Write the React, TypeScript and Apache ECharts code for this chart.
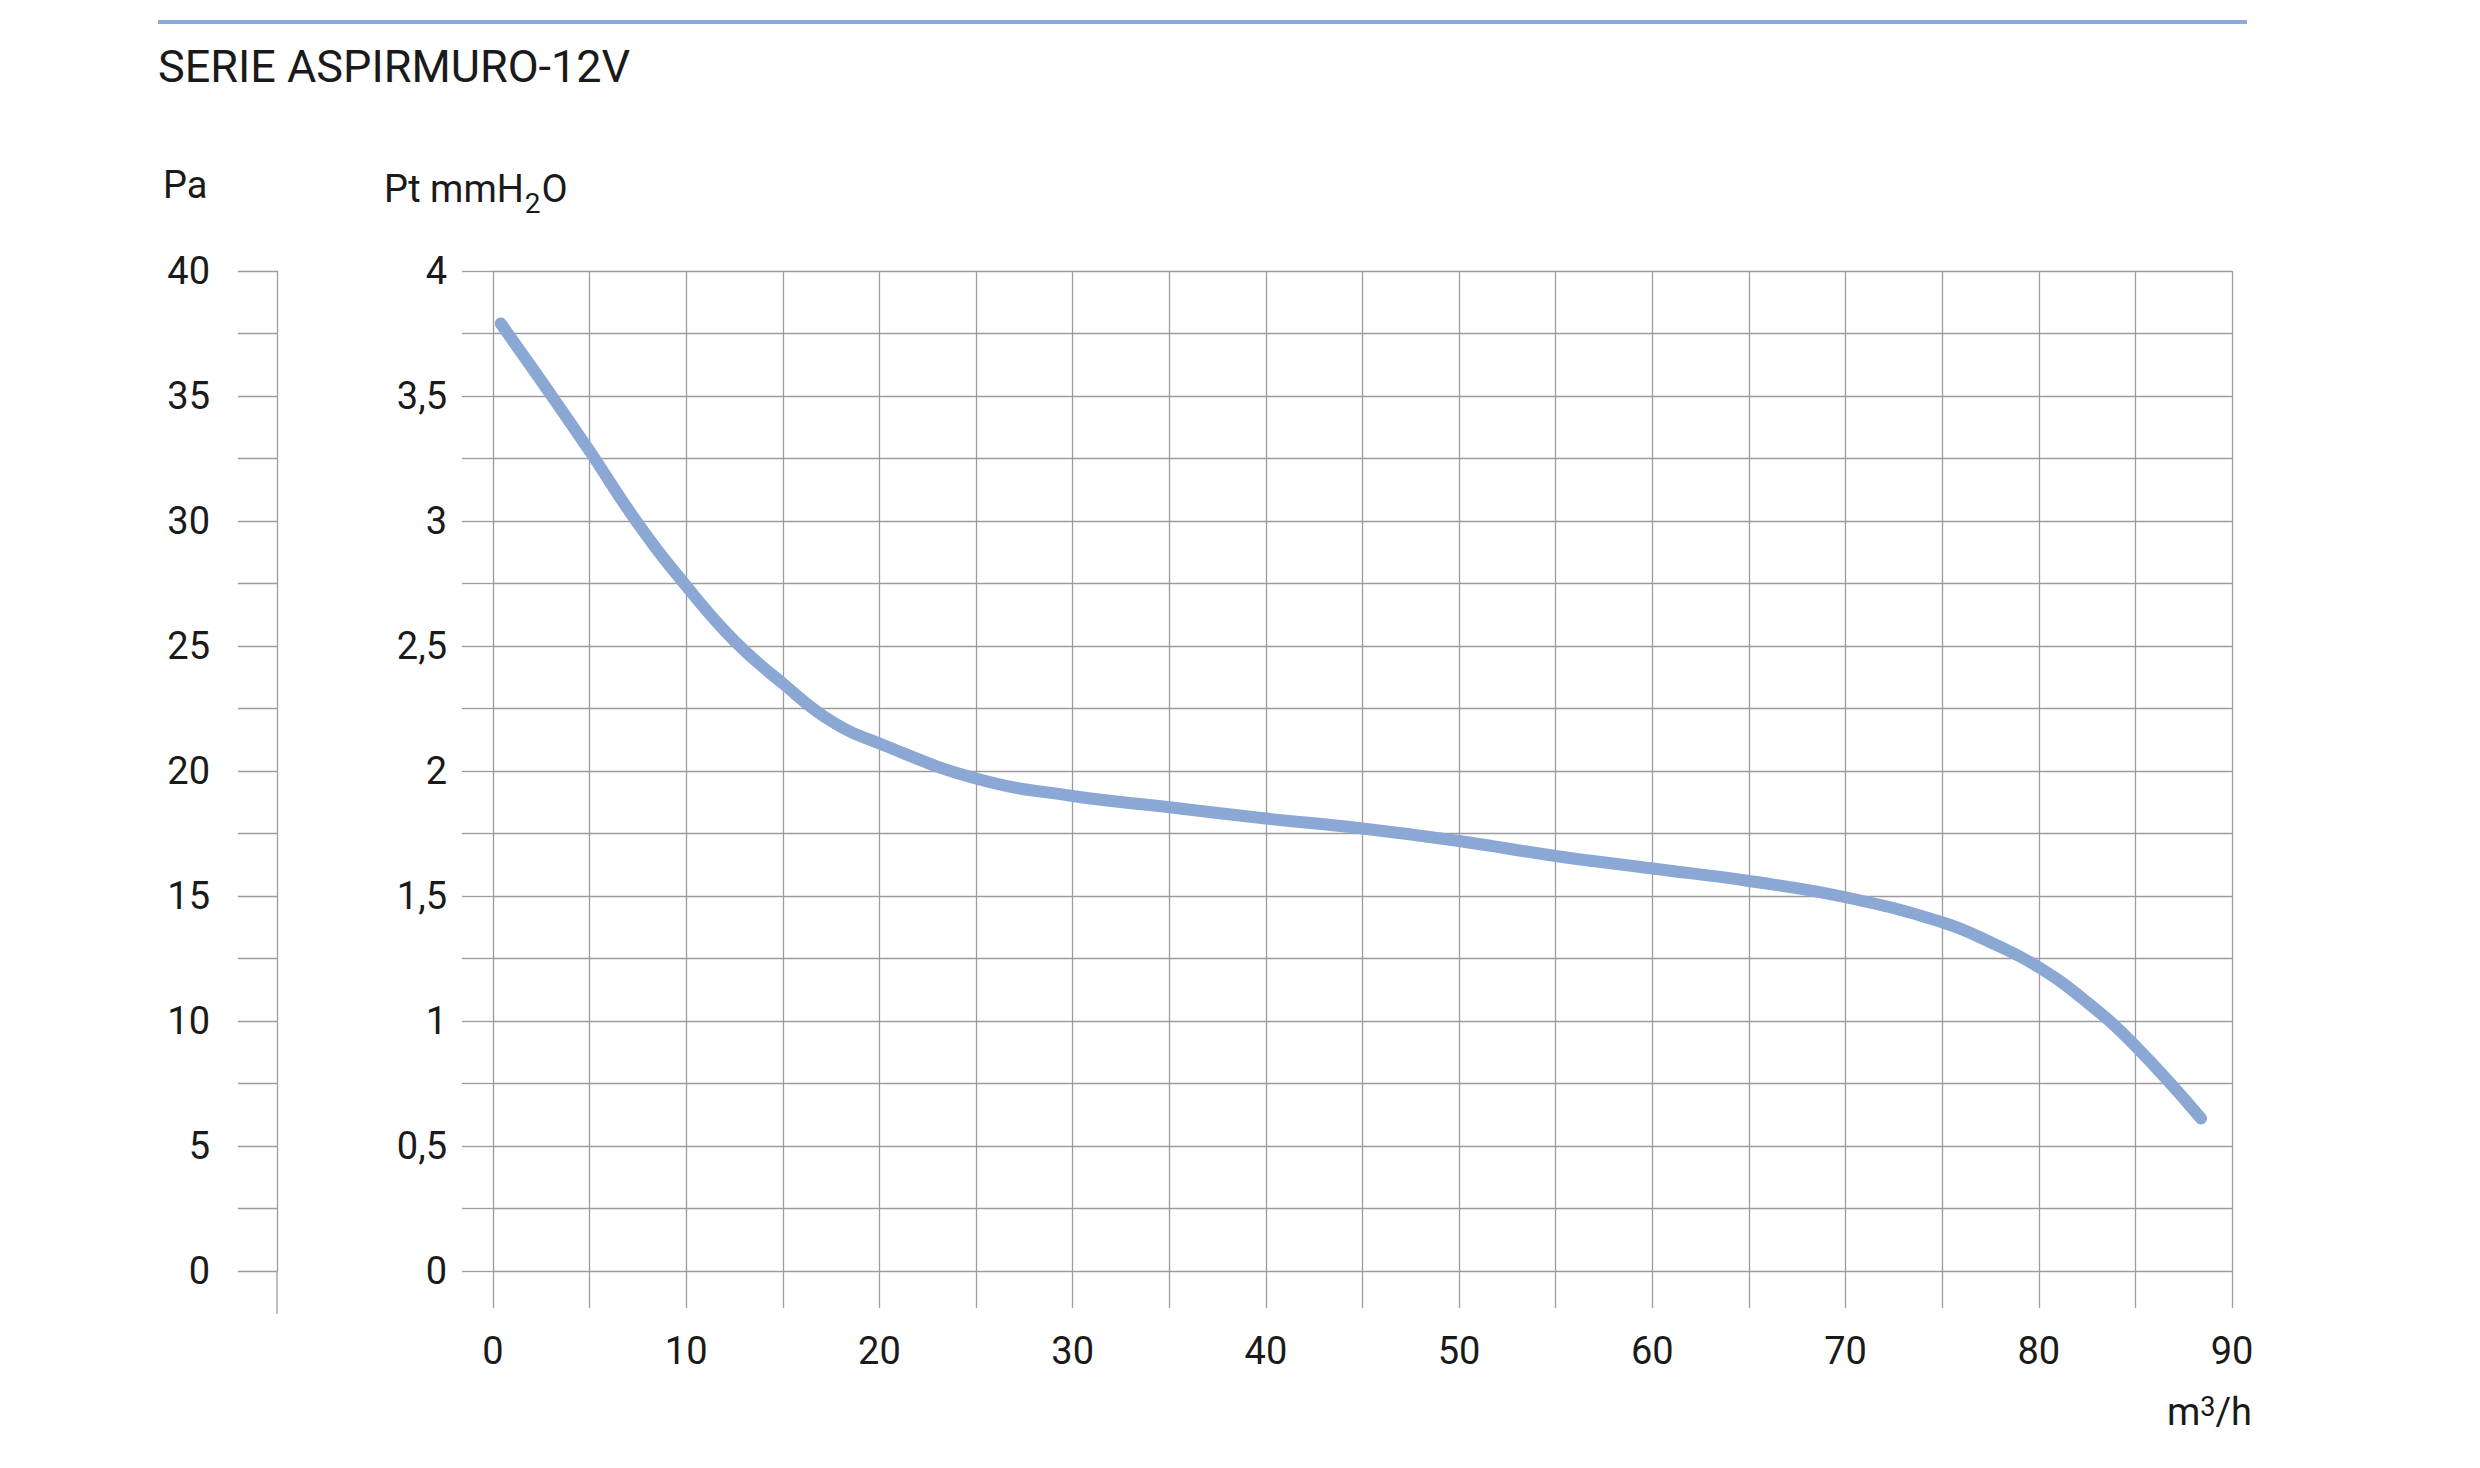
import React, { useEffect, useRef } from "react";
import * as echarts from "echarts";

// Flow (m3/h) and total pressure (mmH2O)
const flowX = [0.4, 2.5, 5, 7.5, 10, 12.5, 15, 17.5, 20, 25, 30, 35, 40, 45, 50, 55, 60, 65, 70, 75, 77.5, 80, 82.5, 85, 88.4];
const pressure = [3.79, 3.56, 3.28, 2.99, 2.74, 2.52, 2.35, 2.2, 2.11, 1.97, 1.9, 1.855, 1.81, 1.77, 1.72, 1.66, 1.61, 1.56, 1.495, 1.395, 1.315, 1.215, 1.075, 0.9, 0.61];

const titleText = "SERIE ASPIRMURO-12V";
const paLabel = "Pa";

const FONT = "Roboto";
const TXT = "#1a1a1a";
const GRID = "#9c9c9c";
const CURVE = "#8ba7d3";

const GL = 493, GT = 271, GR = 2232, GB = 1271;

export default function App() {
  const ref = useRef<HTMLDivElement>(null);
  useEffect(() => {
    if (!ref.current) return;
    const chart = echarts.init(ref.current, null, { renderer: "svg" });
    const comma = (v: number) => String(v).replace(".", ",");
    chart.setOption({
      animation: false,
      backgroundColor: "#ffffff",
      grid: { left: GL, top: GT, width: GR - GL, height: GB - GT, containLabel: false },
      xAxis: {
        type: "value",
        min: 0,
        max: 90,
        interval: 5,
        axisLine: { show: false },
        axisTick: { show: true, inside: false, length: 37, lineStyle: { color: GRID, width: 1.3 } },
        splitLine: { show: true, lineStyle: { color: GRID, width: 1.3 } },
        axisLabel: {
          formatter: (v: number) => (v % 10 === 0 ? String(v) : ""),
          fontFamily: FONT,
          fontSize: 38,
          color: TXT,
          margin: 80,
          verticalAlign: "middle",
        },
      },
      yAxis: [
        {
          type: "value",
          min: 0,
          max: 4,
          interval: 0.25,
          axisLine: { show: false },
          axisTick: { show: true, inside: false, length: 31, lineStyle: { color: GRID, width: 1.3 } },
          splitLine: { show: true, lineStyle: { color: GRID, width: 1.3 } },
          axisLabel: {
            formatter: (v: number) => (Math.abs(v * 2 - Math.round(v * 2)) < 1e-6 ? comma(v) : ""),
            fontFamily: FONT,
            fontSize: 38,
            color: TXT,
            margin: 46,
          },
        },
        {
          type: "value",
          position: "left",
          offset: GL - 277,
          min: 0,
          max: 40,
          interval: 2.5,
          axisLine: { show: true, lineStyle: { color: GRID, width: 1.3 } },
          axisTick: { show: true, inside: false, length: 39, lineStyle: { color: GRID, width: 1.3 } },
          splitLine: { show: false },
          axisLabel: {
            formatter: (v: number) => (v % 5 === 0 ? String(v) : ""),
            fontFamily: FONT,
            fontSize: 38,
            color: TXT,
            margin: 67,
          },
        },
      ],
      graphic: [
        { type: "line", shape: { x1: 158, y1: 22, x2: 2247, y2: 22 }, style: { stroke: "#8eaad6", lineWidth: 4 } },
        {
          type: "text",
          x: 158,
          y: 66,
          style: { text: titleText, fontFamily: FONT, fontSize: 45, fill: TXT, align: "left", verticalAlign: "middle", textAlign: "left", textVerticalAlign: "middle" },
        },
        {
          type: "text",
          x: 163,
          y: 185,
          style: { text: paLabel, fontFamily: FONT, fontSize: 38, fill: TXT, align: "left", verticalAlign: "middle", textAlign: "left", textVerticalAlign: "middle" },
        },
        {
          type: "text",
          x: 384,
          y: 170,
          style: {
            text: "{a|Pt mmH}{s|2}{a|O}",
            align: "left",
            verticalAlign: "top",
            textAlign: "left",
            textVerticalAlign: "top",
            rich: {
              a: { fontFamily: FONT, fontSize: 38, verticalAlign: "top", fill: TXT },
              s: { fontFamily: FONT, fontSize: 28, verticalAlign: "top", padding: [19, 1, 0, 1], fill: TXT },
            },
          },
        },
        {
          type: "text",
          x: 2252,
          y: 1393,
          style: {
            text: "{a|m}{s|3}{a|/h}",
            align: "right",
            verticalAlign: "top",
            textAlign: "right",
            textVerticalAlign: "top",
            rich: {
              a: { fontFamily: FONT, fontSize: 38, lineHeight: 40, verticalAlign: "top", fill: TXT },
              s: { fontFamily: FONT, fontSize: 27, lineHeight: 28, verticalAlign: "top", fill: TXT },
            },
          },
        },
        { type: "line", shape: { x1: 277, y1: GB, x2: 277, y2: 1314 }, style: { stroke: GRID, lineWidth: 1.3 } },
      ],
      series: [
        {
          type: "line",
          yAxisIndex: 0,
          data: flowX.map((x, i) => [x, pressure[i]]),
          smooth: 0.45,
          showSymbol: false,
          lineStyle: { color: CURVE, width: 12, cap: "round", join: "round" },
        },
      ],
    });
    return () => chart.dispose();
  }, []);
  return <div ref={ref} style={{ position: "absolute", left: 0, top: 0, width: 2480, height: 1468 }} />;
}
